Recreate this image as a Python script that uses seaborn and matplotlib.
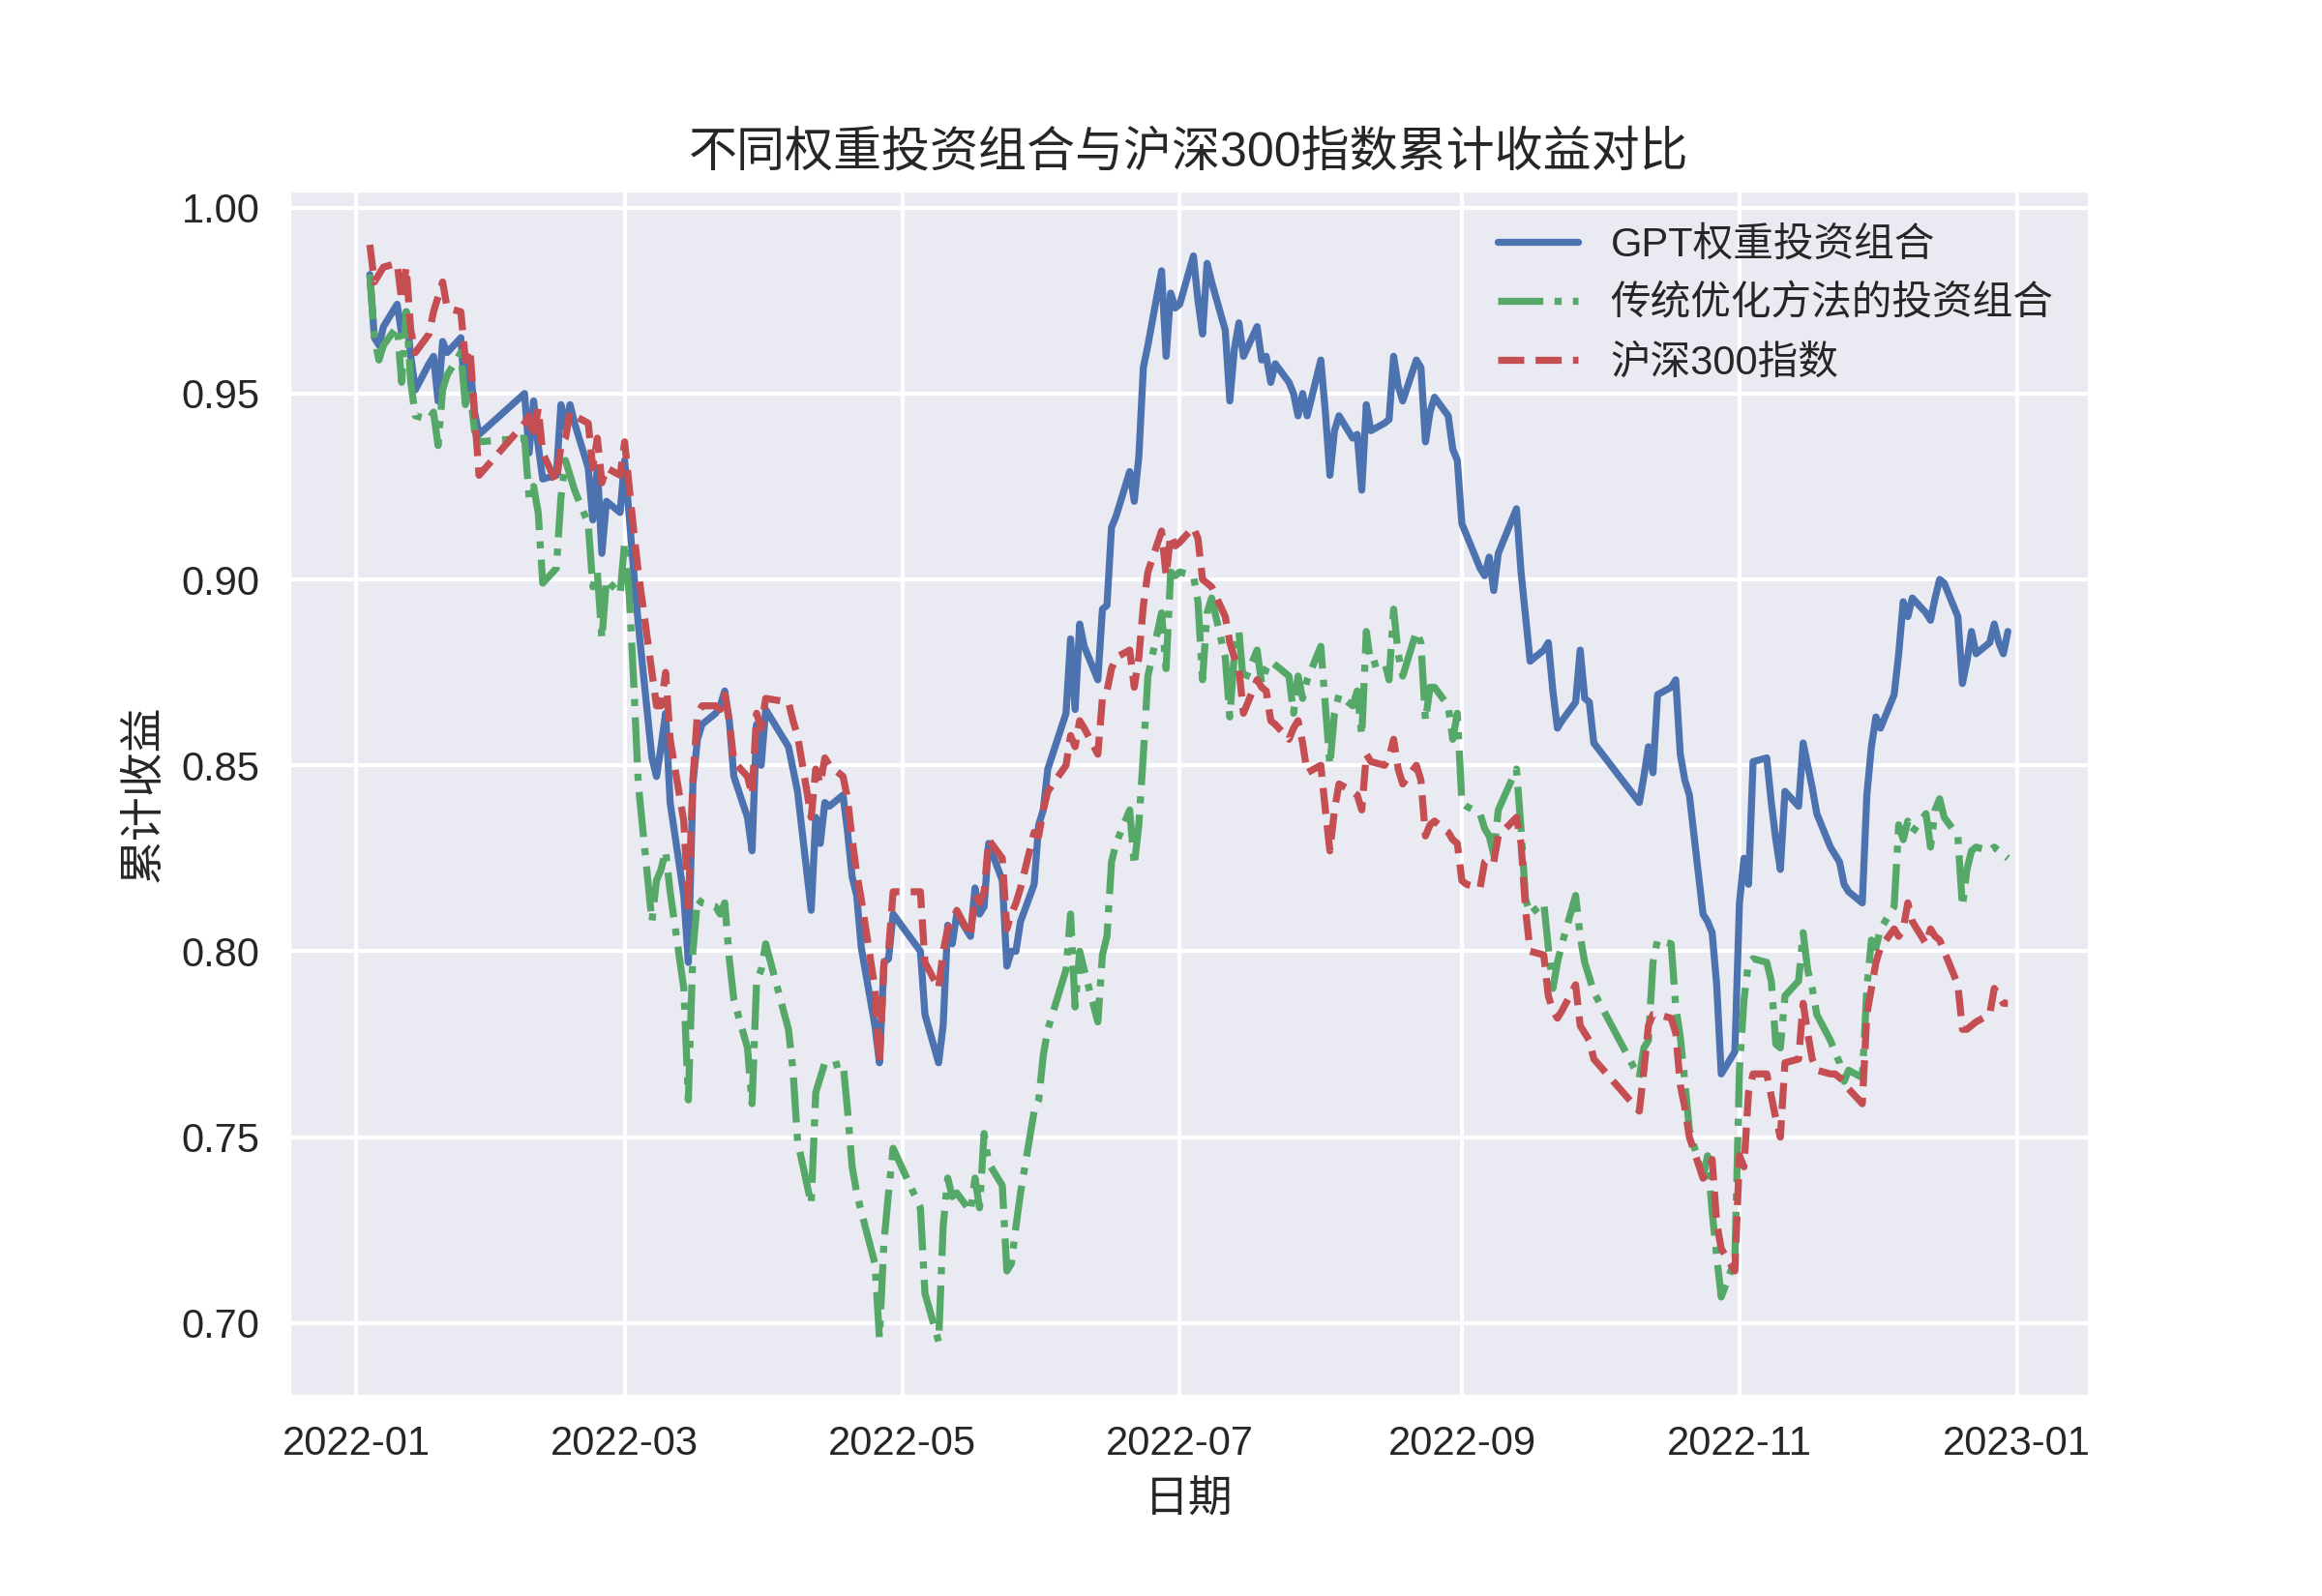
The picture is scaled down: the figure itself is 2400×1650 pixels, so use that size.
import pandas as pd
import matplotlib
matplotlib.use("Agg")
import matplotlib.pyplot as plt
import matplotlib.dates as mdates
import seaborn as sns

# ── trading calendar (A-share 2022, weekday holidays removed) ─────────────
holidays = ["2022-01-31", "2022-02-01", "2022-02-02", "2022-02-03", "2022-02-04",
            "2022-04-04", "2022-04-05", "2022-05-02", "2022-05-03", "2022-05-04",
            "2022-06-03", "2022-09-12", "2022-10-03", "2022-10-04", "2022-10-05",
            "2022-10-06", "2022-10-07"]
dates = pd.bdate_range("2022-01-04", "2022-12-30")
dates = dates[~dates.isin(pd.to_datetime(holidays))]

# ── cumulative returns, one row per month ─────────────────────────────────
gpt_portfolio = [
    0.982, 0.965, 0.963, 0.968, 0.974, 0.966, 0.972, 0.960, 0.951, 0.958, 0.960, 0.948, 0.964, 0.961, 0.965, 0.948, 0.958, 0.945, 0.939,
    0.950, 0.934, 0.948, 0.936, 0.927, 0.928, 0.947, 0.941, 0.947, 0.942, 0.930, 0.916, 0.930, 0.907, 0.921, 0.918,
    0.932, 0.917, 0.902, 0.888, 0.852, 0.847, 0.855, 0.864, 0.840, 0.815, 0.797, 0.845, 0.857, 0.861, 0.864, 0.866, 0.870, 0.862, 0.847, 0.836, 0.827, 0.861, 0.850,
    0.865, 0.855, 0.849, 0.843, 0.811, 0.836, 0.829, 0.840, 0.839, 0.842, 0.832, 0.820, 0.815, 0.801, 0.780, 0.770, 0.797, 0.798, 0.810,
    0.800, 0.783, 0.770, 0.780, 0.807, 0.802, 0.810, 0.804, 0.817, 0.810, 0.812, 0.829, 0.819, 0.796, 0.800, 0.800, 0.808, 0.818, 0.834,
    0.838, 0.849, 0.864, 0.884, 0.865, 0.888, 0.882, 0.873, 0.892, 0.893, 0.914, 0.917, 0.929, 0.921, 0.933, 0.957, 0.963, 0.983, 0.960, 0.977, 0.973,
    0.974, 0.987, 0.975, 0.966, 0.985, 0.980, 0.967, 0.948, 0.962, 0.969, 0.960, 0.968, 0.959, 0.960, 0.953, 0.958, 0.953, 0.950, 0.944, 0.950, 0.944,
    0.959, 0.945, 0.928, 0.940, 0.944, 0.938, 0.939, 0.924, 0.947, 0.940, 0.942, 0.943, 0.960, 0.952, 0.948, 0.959, 0.957, 0.937, 0.945, 0.949, 0.944, 0.935, 0.932,
    0.915, 0.912, 0.903, 0.901, 0.906, 0.897, 0.907, 0.919, 0.902, 0.890, 0.878, 0.881, 0.883, 0.870, 0.860, 0.862, 0.867, 0.881, 0.868, 0.867, 0.856,
    0.840, 0.847, 0.855, 0.848, 0.869, 0.871, 0.873, 0.853, 0.846, 0.842, 0.810, 0.808, 0.805, 0.791, 0.767, 0.773,
    0.813, 0.825, 0.818, 0.851, 0.852, 0.840, 0.830, 0.822, 0.843, 0.839, 0.856, 0.850, 0.844, 0.837, 0.828, 0.826, 0.824, 0.818, 0.816, 0.813, 0.842, 0.855,
    0.863, 0.860, 0.869, 0.880, 0.894, 0.890, 0.895, 0.891, 0.889, 0.895, 0.900, 0.899, 0.890, 0.872, 0.878, 0.886, 0.880, 0.883, 0.888, 0.883, 0.880, 0.886,
]
traditional_portfolio = [
    0.982, 0.965, 0.959, 0.963, 0.968, 0.953, 0.972, 0.953, 0.944, 0.943, 0.945, 0.936, 0.951, 0.955, 0.961, 0.947, 0.951, 0.940, 0.937,
    0.938, 0.922, 0.925, 0.918, 0.899, 0.903, 0.922, 0.932, 0.928, 0.924, 0.915, 0.898, 0.902, 0.884, 0.900, 0.896,
    0.910, 0.896, 0.872, 0.845, 0.808, 0.819, 0.822, 0.827, 0.816, 0.790, 0.760, 0.800, 0.814, 0.813, 0.812, 0.810, 0.813, 0.798, 0.787, 0.774, 0.759, 0.792, 0.795,
    0.802, 0.779, 0.768, 0.749, 0.732, 0.762, 0.766, 0.770, 0.769, 0.770, 0.757, 0.742, 0.735, 0.730, 0.716, 0.696, 0.722, 0.735, 0.747,
    0.731, 0.708, 0.695, 0.726, 0.739, 0.734, 0.735, 0.730, 0.739, 0.731, 0.751, 0.743, 0.737, 0.714, 0.716, 0.726, 0.735, 0.757, 0.760,
    0.772, 0.779, 0.795, 0.810, 0.785, 0.800, 0.795, 0.781, 0.799, 0.804, 0.824, 0.829, 0.838, 0.823, 0.834, 0.853, 0.874, 0.891, 0.876, 0.902, 0.901,
    0.902, 0.901, 0.894, 0.873, 0.891, 0.895, 0.879, 0.863, 0.880, 0.886, 0.872, 0.881, 0.872, 0.876, 0.878, 0.877, 0.874, 0.864, 0.874, 0.868, 0.873,
    0.882, 0.866, 0.850, 0.864, 0.869, 0.866, 0.870, 0.858, 0.886, 0.877, 0.878, 0.873, 0.892, 0.880, 0.874, 0.886, 0.883, 0.862, 0.871, 0.871, 0.866, 0.857, 0.864,
    0.840, 0.839, 0.837, 0.833, 0.831, 0.826, 0.838, 0.849, 0.833, 0.814, 0.810, 0.813, 0.801, 0.790, 0.797, 0.802, 0.815, 0.804, 0.797, 0.793, 0.789,
    0.766, 0.774, 0.776, 0.797, 0.803, 0.802, 0.785, 0.777, 0.765, 0.752, 0.739, 0.745, 0.730, 0.718, 0.707, 0.717,
    0.768, 0.787, 0.797, 0.798, 0.797, 0.792, 0.775, 0.774, 0.788, 0.792, 0.805, 0.795, 0.790, 0.783, 0.776, 0.773, 0.770, 0.765, 0.768, 0.766, 0.790, 0.803,
    0.801, 0.806, 0.812, 0.834, 0.830, 0.835, 0.832, 0.837, 0.828, 0.838, 0.841, 0.836, 0.831, 0.812, 0.822, 0.827, 0.828, 0.827, 0.828, 0.827, 0.826, 0.825,
]
hs300_index = [
    0.990, 0.980, 0.982, 0.984, 0.985, 0.975, 0.984, 0.967, 0.961, 0.966, 0.972, 0.976, 0.980, 0.973, 0.972, 0.959, 0.962, 0.945, 0.928,
    0.942, 0.944, 0.938, 0.946, 0.934, 0.926, 0.936, 0.938, 0.945, 0.944, 0.942, 0.930, 0.938, 0.926, 0.930, 0.928,
    0.937, 0.925, 0.913, 0.902, 0.875, 0.866, 0.866, 0.875, 0.857, 0.835, 0.812, 0.846, 0.864, 0.866, 0.866, 0.865, 0.869, 0.862, 0.851, 0.847, 0.842, 0.864, 0.860,
    0.868, 0.867, 0.862, 0.858, 0.836, 0.849, 0.845, 0.852, 0.850, 0.847, 0.841, 0.830, 0.821, 0.814, 0.790, 0.770, 0.797, 0.800, 0.816,
    0.816, 0.797, 0.790, 0.800, 0.806, 0.808, 0.811, 0.804, 0.815, 0.813, 0.816, 0.830, 0.825, 0.806, 0.810, 0.813, 0.817, 0.832, 0.831,
    0.838, 0.843, 0.850, 0.858, 0.855, 0.862, 0.860, 0.853, 0.868, 0.870, 0.876, 0.879, 0.881, 0.871, 0.879, 0.893, 0.902, 0.913, 0.901, 0.912, 0.909,
    0.910, 0.914, 0.911, 0.900, 0.899, 0.898, 0.890, 0.883, 0.879, 0.876, 0.864, 0.873, 0.871, 0.870, 0.862, 0.861, 0.857, 0.860, 0.862, 0.856, 0.848,
    0.850, 0.838, 0.827, 0.838, 0.845, 0.843, 0.842, 0.838, 0.853, 0.851, 0.850, 0.852, 0.857, 0.849, 0.845, 0.850, 0.846, 0.831, 0.834, 0.835, 0.832, 0.830, 0.829,
    0.819, 0.818, 0.817, 0.824, 0.825, 0.824, 0.831, 0.836, 0.829, 0.811, 0.800, 0.799, 0.788, 0.784, 0.782, 0.784, 0.791, 0.780, 0.778, 0.776, 0.771,
    0.757, 0.768, 0.780, 0.783, 0.783, 0.782, 0.778, 0.764, 0.758, 0.750, 0.739, 0.741, 0.744, 0.727, 0.720, 0.714,
    0.745, 0.742, 0.762, 0.767, 0.767, 0.761, 0.755, 0.750, 0.770, 0.771, 0.786, 0.778, 0.771, 0.768, 0.767, 0.767, 0.766, 0.765, 0.763, 0.759, 0.783, 0.790,
    0.797, 0.801, 0.806, 0.804, 0.806, 0.813, 0.808, 0.802, 0.806, 0.804, 0.803, 0.800, 0.791, 0.779, 0.779, 0.780, 0.781, 0.783, 0.790, 0.788, 0.786, 0.786,
]

series_names = ["GPT权重投资组合", "传统优化方法的投资组合", "沪深300指数"]

# ── style ─────────────────────────────────────────────────────────────────
sns.set_theme(style="darkgrid", rc={
    "xtick.labelsize": 10, "ytick.labelsize": 10,
    "axes.labelsize": 11, "axes.titlesize": 12,
    "legend.fontsize": 10, "lines.linewidth": 1.75,
    "xtick.major.size": 0, "ytick.major.size": 0,
    "xtick.major.pad": 7, "ytick.major.pad": 7,
})
plt.rcParams["font.family"] = ["Liberation Sans", "Noto Sans CJK SC", "DejaVu Sans"]

fig, ax = plt.subplots(figsize=(8, 5.5), dpi=300)
fig.subplots_adjust(left=0.124, right=0.9, top=0.881, bottom=0.125)

sns.lineplot(x=dates, y=gpt_portfolio, ax=ax, color="#4C72B0",
             linestyle="-", label=series_names[0])
sns.lineplot(x=dates, y=traditional_portfolio, ax=ax, color="#55A868",
             linestyle="-.", label=series_names[1])
sns.lineplot(x=dates, y=hs300_index, ax=ax, color="#C44E52",
             linestyle="--", label=series_names[2])

ax.xaxis.set_major_locator(mdates.MonthLocator(bymonth=[1, 3, 5, 7, 9, 11]))
ax.xaxis.set_major_formatter(mdates.DateFormatter("%Y-%m"))

ax.set_title("不同权重投资组合与沪深300指数累计收益对比")
ax.set_xlabel("日期")
ax.set_ylabel("累计收益")
ax.legend(loc="upper right", frameon=False)

fig.savefig("out.png", dpi=300)
plt.close(fig)
